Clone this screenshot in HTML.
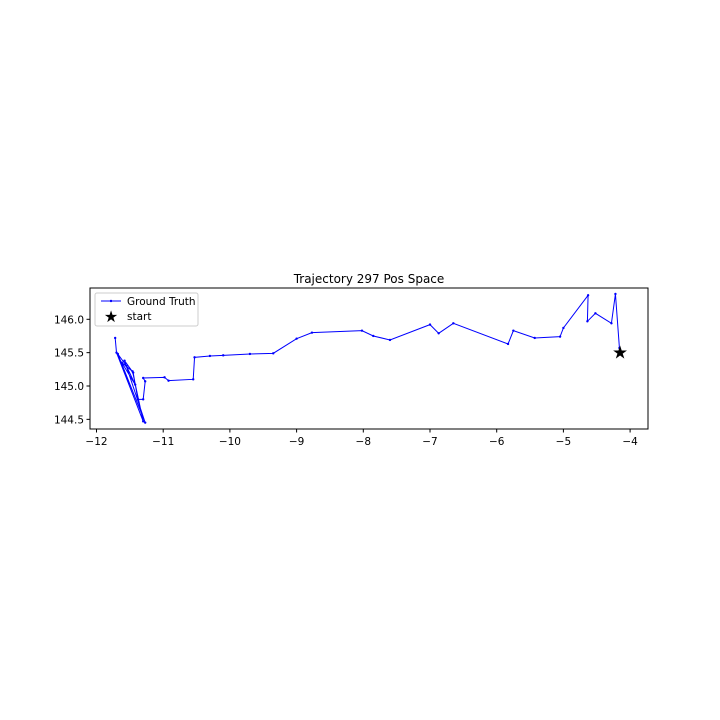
<!DOCTYPE html>
<html><head><meta charset="utf-8"><style>
body{margin:0;background:#fff;}
svg{display:block;font-family:"DejaVu Sans","Liberation Sans",sans-serif;}
</style></head><body>
<svg id="chart" width="720" height="720" viewBox="0 0 720 720">
<rect width="720" height="720" fill="#fff"/>
<text x="369" y="283" font-size="12" text-anchor="middle">Trajectory 297 Pos Space</text>
<g id="marks"></g>
<rect x="90" y="288" width="558" height="141" fill="none" stroke="#000" stroke-width="1"/>
<g id="axes"></g>
<g>
<rect x="95" y="293" width="103" height="33" rx="2" fill="#fff" fill-opacity="0.8" stroke="#ccc"/>
<line x1="101" y1="301" x2="121" y2="301" stroke="blue" stroke-width="1"/>
<circle cx="111" cy="301" r="1.2" fill="blue"/>
<text x="127" y="305" font-size="10.5">Ground Truth</text>
<text x="111" y="322" font-size="16" text-anchor="middle">★</text>
<text x="127" y="320" font-size="10.5">start</text>
</g>
</svg>
<script>
const xs=[-4.15,-4.16,-4.22,-4.28,-4.52,-4.64,-4.63,-5.0,-5.05,-5.43,-5.75,-5.83,-6.65,-6.87,-7.0,-7.6,-7.85,-8.02,-8.77,-9.0,-9.35,-9.7,-10.1,-10.3,-10.53,-10.55,-10.92,-10.98,-11.3,-11.27,-11.3,-11.38,-11.45,-11.58,-11.27,-11.68,-11.55,-11.42,-11.62,-11.46,-11.3,-11.7,-11.72];
const ys=[145.5,145.57,146.38,145.94,146.09,145.97,146.36,145.87,145.74,145.72,145.83,145.63,145.94,145.79,145.92,145.69,145.75,145.83,145.8,145.71,145.49,145.48,145.46,145.45,145.43,145.1,145.08,145.13,145.12,145.07,144.8,144.8,145.2,145.38,144.45,145.48,145.3,145.02,145.35,145.22,144.47,145.5,145.72];
const xTicks=[-12,-11,-10,-9,-8,-7,-6,-5,-4];
const yTicks=[144.5,145.0,145.5,146.0];
const startPt=[-4.15,145.5];
const NS='http://www.w3.org/2000/svg';
function X(v){return 96.5+(v+12)*66.7;}
function Y(v){return 386-(v-145)*66.7;}
const marks=document.getElementById('marks');
const axes=document.getElementById('axes');
const line=document.createElementNS(NS,'polyline');
line.setAttribute('points',xs.map((x,i)=>X(x)+','+Y(ys[i])).join(' '));
line.setAttribute('fill','none');line.setAttribute('stroke','blue');line.setAttribute('stroke-width','1');


marks.appendChild(line);
xs.forEach((x,i)=>{const c=document.createElementNS(NS,'circle');
c.setAttribute('cx',X(x));c.setAttribute('cy',Y(ys[i]));c.setAttribute('r','1.2');c.setAttribute('fill','blue');


marks.appendChild(c);});
const st=document.createElementNS(NS,'text');
st.setAttribute('x',X(startPt[0]));st.setAttribute('y',Y(startPt[1])+6);st.setAttribute('font-size','18');st.setAttribute('text-anchor','middle');
st.textContent='★';


marks.appendChild(st);
xTicks.forEach(t=>{const l=document.createElementNS(NS,'line');
l.setAttribute('x1',X(t));l.setAttribute('x2',X(t));l.setAttribute('y1',429);l.setAttribute('y2',432.5);l.setAttribute('stroke','#000');


axes.appendChild(l);
const tx=document.createElementNS(NS,'text');tx.setAttribute('x',X(t));tx.setAttribute('y',445);tx.setAttribute('font-size','10.5');tx.setAttribute('text-anchor','middle');
tx.textContent=(t<0?'\u2212'+Math.abs(t):t);


axes.appendChild(tx);});
yTicks.forEach(t=>{const l=document.createElementNS(NS,'line');
l.setAttribute('x1',86.5);l.setAttribute('x2',90);l.setAttribute('y1',Y(t));l.setAttribute('y2',Y(t));l.setAttribute('stroke','#000');


axes.appendChild(l);
const tx=document.createElementNS(NS,'text');tx.setAttribute('x',84);tx.setAttribute('y',Y(t)+4);tx.setAttribute('font-size','10.5');tx.setAttribute('text-anchor','end');
tx.textContent=t.toFixed(1);


axes.appendChild(tx);});
</script>
</body></html>
